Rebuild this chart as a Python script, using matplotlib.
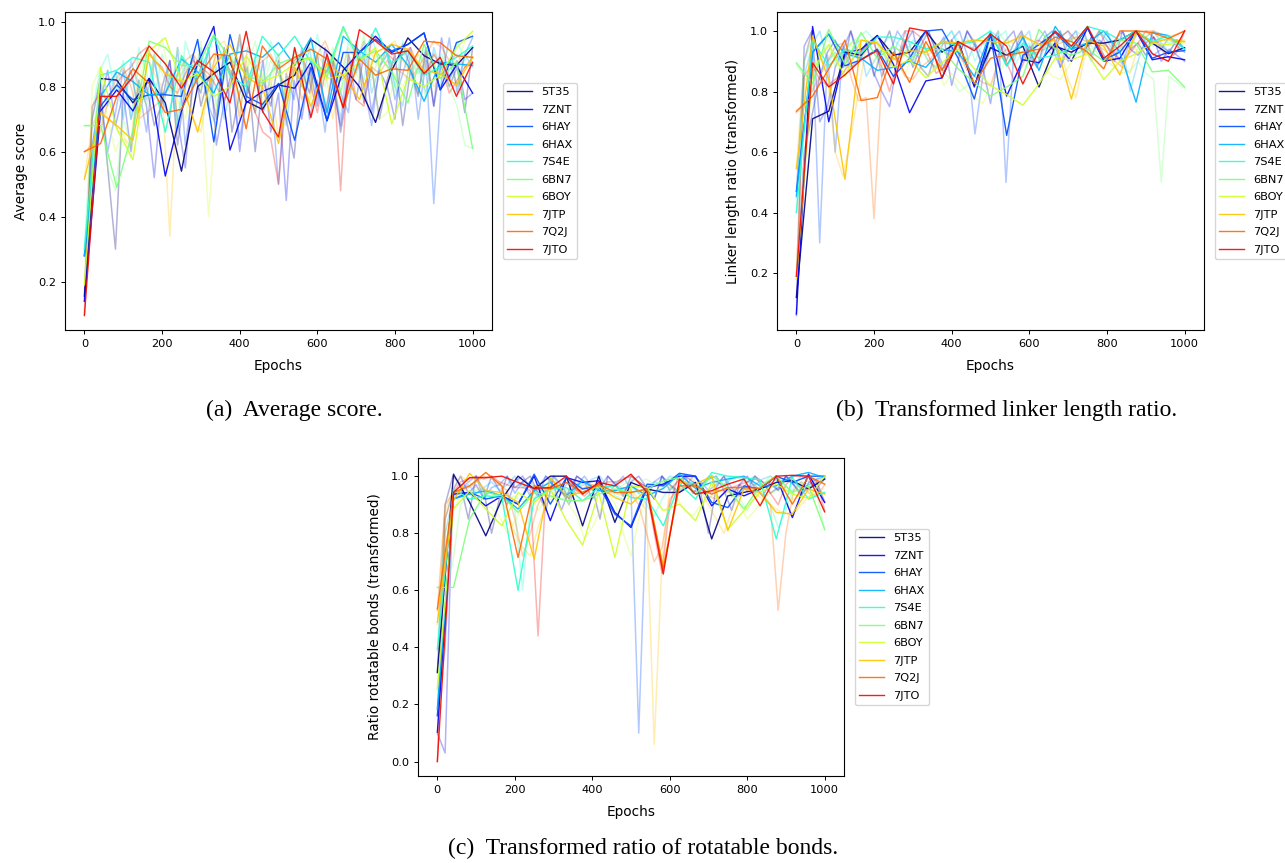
import matplotlib
matplotlib.use("Agg")
import matplotlib.pyplot as plt
import numpy as np

targets = ["5T35", "7ZNT", "6HAY", "6HAX", "7S4E", "6BN7", "6BOY", "7JTP", "7Q2J", "7JTO"]

# bold curves: one value every ~42 epochs (25 points), in percent
epochs_coarse = np.linspace(0, 1000, 25)
# faint curves: one value every 20 epochs (51 points), in percent
epochs_fine = np.arange(0, 1001, 20)

score_coarse = [
    [15.5, 82.5, 82, 75, 82.5, 75, 54, 80, 84, 87.5, 75.5, 73, 80.5, 83.5, 94.5, 91, 86, 80, 69, 85, 95, 89.5, 87, 86.5, 92],
    [14, 72.5, 79, 72.5, 82.5, 52.5, 72.5, 87, 98.5, 60.5, 75, 78.5, 80.5, 79.5, 87.5, 69.5, 85, 90.5, 95.5, 90.5, 93, 96.5, 79, 86.5, 78],
    [28, 74, 80.5, 76, 77.5, 77.5, 77, 94.5, 63, 96, 77, 74.5, 81, 63.5, 86, 69.5, 90.5, 90.5, 94.5, 91, 93, 96.5, 79, 93.5, 95.5],
    [28, 77, 84.5, 81.5, 77.5, 78, 88.5, 84.5, 78, 90, 91, 89, 93.5, 86.5, 95, 72, 95.5, 91, 87.5, 93, 86.5, 75.5, 87.5, 87, 86.5],
    [30, 83.5, 85, 89, 87.5, 66, 89.5, 82.5, 95.5, 83.5, 80, 95.5, 89.5, 95.5, 87.5, 84.5, 98.5, 87.5, 98, 87, 91, 83.5, 86, 89, 92.5],
    [68, 68, 49, 66.5, 94, 92, 86.5, 86.5, 96, 88.5, 84, 81, 87, 89, 88.5, 83, 98, 88.5, 91, 84.5, 75, 93, 82.5, 87.5, 61],
    [19, 86, 67, 57.5, 91, 95, 81.5, 84, 77, 80, 89.5, 81.5, 83.5, 87, 89, 82.5, 83.5, 87.5, 92, 68.5, 82.5, 80, 83.5, 92, 97],
    [51.5, 72, 68, 63.5, 90, 84, 81.5, 66, 86, 93, 83, 80, 62.5, 86, 74, 87, 83.5, 76, 90.5, 93, 91.5, 85, 84, 80.5, 89],
    [60, 62.5, 77, 85.5, 81, 72, 73, 82.5, 90, 89.5, 67, 92.5, 85.5, 89, 91.5, 88.5, 73.5, 88.5, 83.5, 85.5, 85, 94, 93.5, 89.5, 89],
    [9.6, 77, 77, 83, 92.5, 87, 79.5, 88, 84.5, 75, 97, 72.5, 64.5, 92, 70.5, 90, 73.5, 97.5, 94, 90, 91, 84, 89, 77, 87.5],
]

score_fine = [
    [16, 70, 82, 55, 30, 78, 85, 72, 80, 68, 75, 88, 62, 80, 90, 74, 83, 70, 92, 66, 78, 86, 60, 82, 74, 88, 70, 58, 85, 78, 90, 72, 84, 66, 80, 93, 75, 86, 70, 82, 90, 68, 85, 77, 92, 74, 88, 80, 86, 72, 92],
    [14, 62, 75, 85, 68, 78, 60, 82, 74, 52, 80, 88, 70, 55, 84, 78, 92, 62, 75, 85, 60, 80, 72, 88, 66, 78, 45, 82, 70, 86, 74, 92, 80, 68, 84, 76, 90, 72, 85, 80, 70, 93, 86, 78, 90, 74, 95, 82, 88, 76, 78],
    [28, 55, 78, 60, 72, 85, 70, 80, 66, 88, 76, 70, 92, 62, 80, 86, 74, 68, 90, 82, 64, 78, 86, 72, 80, 50, 84, 76, 92, 70, 82, 66, 88, 78, 72, 94, 80, 68, 86, 90, 76, 84, 92, 70, 88, 44, 82, 95, 78, 90, 95],
    [28, 60, 82, 74, 85, 70, 88, 80, 76, 90, 72, 84, 66, 88, 80, 92, 74, 86, 70, 82, 94, 78, 88, 72, 84, 90, 68, 86, 80, 92, 76, 88, 82, 70, 90, 84, 94, 78, 86, 92, 80, 74, 90, 86, 78, 92, 84, 88, 80, 90, 86],
    [30, 72, 85, 90, 78, 88, 70, 92, 84, 76, 90, 82, 68, 94, 86, 80, 92, 74, 88, 84, 96, 78, 90, 82, 94, 86, 72, 92, 88, 80, 96, 84, 90, 78, 94, 88, 82, 96, 86, 90, 80, 94, 88, 84, 92, 86, 90, 82, 94, 88, 92],
    [68, 68, 75, 55, 48, 70, 62, 82, 74, 90, 84, 78, 92, 86, 80, 94, 76, 88, 82, 90, 72, 86, 94, 80, 88, 84, 76, 90, 82, 94, 86, 80, 92, 78, 88, 84, 96, 82, 90, 86, 78, 92, 84, 88, 76, 90, 86, 80, 74, 62, 61],
    [19, 80, 86, 70, 60, 66, 58, 80, 92, 88, 95, 82, 76, 70, 86, 80, 40, 74, 86, 82, 78, 88, 72, 84, 80, 90, 76, 84, 86, 74, 88, 82, 90, 78, 86, 84, 80, 88, 70, 72, 84, 80, 86, 78, 90, 84, 88, 92, 86, 94, 97],
    [52, 68, 72, 70, 68, 64, 62, 88, 90, 84, 80, 34, 82, 86, 70, 66, 80, 92, 94, 88, 84, 80, 86, 74, 82, 64, 84, 88, 80, 76, 90, 86, 70, 84, 92, 88, 94, 90, 86, 92, 94, 88, 84, 90, 86, 80, 84, 88, 80, 86, 89],
    [60, 62, 66, 75, 82, 86, 80, 70, 72, 74, 76, 80, 84, 88, 90, 86, 82, 90, 88, 84, 70, 92, 86, 88, 90, 84, 80, 86, 76, 82, 90, 94, 88, 82, 84, 92, 80, 86, 84, 88, 86, 84, 82, 86, 90, 94, 92, 88, 90, 86, 89],
    [10, 74, 78, 76, 80, 84, 86, 90, 92, 88, 86, 80, 78, 84, 88, 86, 84, 80, 76, 82, 96, 80, 72, 66, 64, 50, 78, 88, 90, 82, 72, 84, 88, 48, 90, 76, 74, 96, 94, 90, 88, 90, 92, 86, 84, 90, 86, 78, 82, 86, 87],
]

linker_coarse = [
    [12, 71, 73.5, 93, 92, 98.5, 92, 93, 100, 93, 96.5, 82, 94.5, 92, 95, 81.5, 95, 93, 96, 96, 97, 100, 96, 92.5, 94.5],
    [6.5, 101.5, 70, 92.5, 94, 98.5, 89, 73, 83.5, 84.5, 96.5, 81.5, 99, 78.5, 90.5, 89.5, 96, 90, 101, 90, 91, 100, 90.5, 91.5, 90.5],
    [47, 93, 99, 88.5, 90.5, 94, 85, 91, 100, 100.5, 91, 77.5, 99, 65.5, 92, 95.5, 99.5, 94, 101, 90.5, 93, 100, 91, 93, 93.5],
    [45.5, 93, 99, 92.5, 91, 87, 88, 90, 88, 94, 93, 85, 99.5, 88.5, 98, 87, 101.5, 94, 96, 100, 93, 76.5, 99.5, 98.5, 94],
    [40, 97, 88.5, 94, 92.5, 98, 98, 96.5, 94, 96, 95.5, 96.5, 100, 88.5, 96, 91, 92, 94.5, 101.5, 100, 97, 100, 96.5, 98.5, 94],
    [89.5, 82.5, 100.5, 89, 99.5, 91, 95, 91, 93.5, 94, 87.5, 83, 78.5, 81.5, 85, 100.5, 94, 92, 94, 90, 97, 96, 86.5, 87, 81.5],
    [18, 87, 95.5, 85, 97, 96, 88, 90.5, 84.5, 89.5, 94, 87.5, 82, 79, 75.5, 82.5, 91, 90.5, 92.5, 84, 90, 92.5, 96, 95.5, 96.5],
    [54.5, 98.5, 84, 51, 97, 96, 90.5, 93.5, 93, 96.5, 96, 97, 96.5, 96, 98.5, 95.5, 97, 77.5, 97, 95, 85.5, 100, 96, 97.5, 96.5],
    [73.5, 78.5, 87.5, 97, 77, 78, 93, 83, 96.5, 87, 96, 82.5, 91, 92, 93, 94, 98, 96.5, 93, 87.5, 100, 100, 99.5, 97.5, 100],
    [19, 89.5, 81.5, 85.5, 90.5, 93.5, 82.5, 101, 100, 84.5, 96.5, 93.5, 99, 95, 82.5, 93.5, 100, 95, 101.5, 91, 95, 100, 92.5, 90, 100],
]

linker_fine = [
    [12, 60, 72, 85, 93, 97, 88, 100, 92, 96, 85, 94, 100, 90, 97, 88, 95, 100, 93, 86, 97, 92, 100, 95, 88, 94, 98, 90, 96, 100, 92, 88, 97, 94, 100, 90, 96, 93, 98, 95, 90, 97, 100, 94, 96, 92, 98, 95, 93, 97, 94],
    [6, 95, 100, 70, 75, 88, 94, 100, 90, 96, 86, 80, 75, 90, 96, 100, 88, 85, 94, 98, 82, 92, 100, 96, 88, 76, 92, 97, 100, 90, 95, 92, 98, 100, 88, 94, 96, 100, 92, 97, 95, 90, 100, 94, 92, 96, 98, 90, 94, 92, 90],
    [47, 90, 100, 30, 92, 60, 95, 88, 90, 94, 97, 85, 92, 100, 96, 90, 98, 100, 94, 88, 97, 100, 92, 66, 85, 95, 100, 50, 93, 99, 90, 96, 100, 94, 88, 97, 100, 92, 98, 95, 100, 93, 89, 97, 100, 96, 92, 94, 98, 95, 93],
    [45, 85, 95, 100, 90, 93, 88, 92, 97, 85, 90, 94, 88, 96, 100, 92, 95, 90, 88, 97, 100, 94, 90, 96, 92, 100, 98, 93, 90, 97, 100, 88, 95, 92, 98, 100, 94, 96, 90, 100, 97, 92, 95, 80, 90, 98, 100, 96, 93, 97, 94],
    [40, 90, 97, 92, 88, 95, 93, 96, 98, 100, 97, 95, 98, 96, 93, 97, 96, 94, 95, 97, 100, 96, 98, 90, 96, 94, 98, 100, 88, 93, 96, 92, 98, 100, 97, 95, 100, 98, 96, 100, 97, 96, 98, 95, 100, 97, 95, 98, 96, 97, 94],
    [89, 85, 80, 95, 100, 88, 92, 96, 90, 95, 98, 92, 94, 90, 93, 96, 94, 90, 88, 86, 84, 80, 82, 85, 90, 95, 100, 96, 94, 92, 90, 93, 95, 92, 94, 96, 98, 97, 95, 92, 90, 88, 86, 87, 90, 86, 84, 50, 85, 83, 81],
    [18, 80, 88, 92, 95, 90, 85, 96, 97, 93, 90, 88, 94, 90, 86, 92, 88, 85, 90, 82, 86, 83, 80, 78, 76, 82, 86, 90, 93, 92, 90, 92, 88, 85, 84, 88, 92, 95, 94, 93, 90, 92, 95, 96, 93, 94, 96, 95, 97, 96, 96],
    [55, 90, 100, 92, 85, 60, 52, 65, 80, 95, 97, 96, 93, 90, 92, 94, 93, 92, 95, 97, 96, 94, 97, 96, 98, 96, 95, 97, 96, 98, 97, 95, 97, 96, 94, 84, 78, 90, 97, 96, 95, 92, 88, 86, 95, 98, 100, 97, 97, 96, 97],
    [73, 76, 80, 85, 90, 95, 96, 85, 77, 78, 38, 85, 92, 90, 85, 84, 88, 90, 93, 96, 97, 92, 87, 85, 83, 82, 90, 94, 92, 93, 92, 93, 94, 95, 96, 97, 98, 97, 96, 95, 93, 90, 88, 94, 100, 100, 100, 99, 98, 99, 100],
    [19, 85, 89, 84, 82, 84, 86, 90, 93, 95, 96, 88, 80, 90, 100, 100, 98, 92, 86, 88, 94, 96, 95, 94, 96, 98, 97, 90, 84, 88, 94, 97, 96, 94, 98, 100, 97, 94, 96, 100, 95, 92, 90, 93, 96, 100, 98, 94, 91, 93, 100],
]

rot_coarse = [
    [31.3, 100.7, 90.8, 79.1, 92, 100, 95.5, 100, 100, 82.6, 100, 83.8, 97.8, 95.5, 94.3, 94.3, 97.8, 78, 93.1, 94.3, 95.5, 97.8, 98.4, 95.5, 99],
    [10.3, 93.7, 94.3, 89.6, 93.1, 90.2, 100, 84.4, 99.5, 97.8, 98.4, 87.3, 82, 96, 97.2, 100, 100, 89.6, 95.5, 93.1, 95.5, 100, 85.5, 100.7, 90.8],
    [16.1, 92, 94.3, 92, 93.1, 90.2, 100.7, 90.2, 99.5, 95.5, 96.6, 86.7, 82.6, 97.2, 96.6, 101, 100, 90.8, 89, 96.6, 95.5, 100, 97.8, 100, 100],
    [18.4, 92, 93.7, 94.9, 93.1, 88.5, 94.9, 97.8, 93.1, 98.4, 94.9, 94.9, 96.6, 93.1, 95.7, 100.7, 95.7, 97.8, 99, 100, 96.6, 96.6, 100, 101.3, 99.5],
    [39.4, 95.5, 92, 93.1, 92.5, 60, 92, 95.5, 96, 91.4, 96, 96.6, 92.5, 92, 82.6, 97.2, 92, 101.3, 100, 99.5, 98.7, 78, 99.5, 92, 94.3],
    [61, 61, 85, 94.3, 93.1, 87.3, 94.3, 93.1, 91.4, 91.4, 93.7, 95.5, 94.3, 95.5, 98.4, 99.5, 93.7, 100.3, 95.7, 88.5, 96.6, 100, 94.3, 96.6, 81.4],
    [25.4, 88.5, 94.9, 88.5, 82.6, 94.3, 90.8, 95.5, 84.4, 75.8, 94.3, 71.5, 96.6, 96, 87.9, 90.2, 84.4, 97.8, 81.4, 87.9, 94.3, 97.2, 93.7, 92.2, 100],
    [48.8, 91.4, 101, 94.9, 94.3, 90.8, 70.9, 99.5, 93.1, 94.3, 96.6, 92.5, 90.2, 95.5, 68, 97.8, 97.2, 100, 80.9, 95.5, 94.3, 87.3, 86.7, 95.5, 93.7],
    [53.5, 94.3, 96.6, 101.3, 96.6, 71.5, 96.6, 95.5, 97.8, 94.3, 97.2, 94.3, 94.3, 95.5, 67.5, 96.6, 96.6, 93.7, 96, 96, 95.7, 100, 90.2, 100, 97.2],
    [0, 94.3, 99.5, 99.5, 100, 97.8, 95.7, 96, 100, 93.7, 97.8, 96.6, 100.7, 94.3, 65.7, 99, 93.7, 94.9, 97.2, 99, 89.6, 100, 100.3, 100, 87.5],
]

rot_fine = [
    [31, 90, 100, 97, 85, 100, 95, 80, 92, 100, 96, 98, 100, 94, 88, 100, 97, 92, 100, 98, 96, 85, 100, 97, 93, 100, 98, 96, 92, 100, 97, 95, 100, 98, 94, 80, 96, 100, 93, 97, 95, 100, 98, 94, 96, 100, 97, 93, 98, 96, 99],
    [10, 3, 95, 100, 94, 97, 92, 100, 95, 90, 98, 100, 96, 93, 100, 97, 88, 95, 100, 98, 92, 96, 100, 97, 94, 98, 100, 96, 92, 100, 95, 98, 100, 94, 97, 99, 100, 95, 88, 97, 100, 96, 93, 98, 95, 100, 97, 94, 96, 98, 91],
    [16, 40, 93, 95, 98, 100, 92, 96, 97, 100, 94, 98, 93, 96, 100, 98, 95, 90, 97, 100, 96, 98, 94, 97, 100, 95, 10, 92, 98, 100, 97, 94, 96, 100, 98, 95, 97, 100, 96, 93, 98, 100, 96, 97, 95, 100, 98, 96, 97, 99, 100],
    [18, 80, 92, 95, 97, 94, 96, 98, 95, 97, 100, 96, 98, 94, 97, 100, 95, 98, 96, 97, 99, 100, 96, 98, 95, 97, 94, 96, 98, 97, 100, 99, 97, 98, 96, 100, 98, 97, 99, 100, 98, 97, 99, 100, 98, 99, 97, 100, 98, 99, 99],
    [39, 85, 95, 93, 94, 92, 93, 95, 92, 94, 88, 60, 90, 94, 96, 95, 97, 93, 96, 98, 95, 97, 96, 93, 92, 96, 94, 90, 86, 92, 96, 95, 97, 98, 96, 99, 100, 97, 100, 99, 98, 97, 94, 90, 82, 88, 96, 98, 97, 96, 94],
    [61, 61, 70, 90, 94, 95, 94, 93, 94, 92, 93, 91, 92, 93, 95, 94, 92, 93, 94, 95, 92, 96, 97, 95, 97, 99, 98, 99, 97, 98, 99, 100, 97, 96, 98, 99, 97, 96, 95, 92, 88, 93, 97, 100, 98, 96, 95, 97, 96, 94, 81],
    [25, 80, 88, 93, 95, 92, 90, 89, 86, 80, 84, 90, 94, 88, 92, 94, 95, 90, 86, 78, 82, 88, 94, 90, 80, 72, 85, 93, 95, 96, 97, 92, 88, 86, 90, 92, 95, 97, 93, 90, 85, 88, 92, 94, 95, 93, 92, 94, 96, 97, 100],
    [48, 88, 95, 100, 98, 96, 95, 94, 92, 88, 80, 75, 72, 82, 90, 93, 96, 95, 94, 96, 97, 96, 95, 94, 93, 95, 92, 88, 6, 70, 96, 98, 100, 99, 95, 90, 85, 80, 88, 95, 96, 94, 92, 90, 88, 87, 87, 90, 93, 94, 94],
    [53, 90, 94, 95, 96, 98, 100, 99, 97, 95, 85, 72, 80, 90, 96, 97, 94, 92, 95, 96, 97, 95, 94, 95, 96, 94, 90, 80, 70, 75, 92, 95, 96, 97, 95, 93, 92, 94, 95, 96, 96, 97, 93, 90, 53, 80, 95, 98, 94, 93, 97],
    [0, 85, 94, 98, 99, 100, 99, 100, 98, 97, 96, 96, 95, 44, 95, 96, 97, 98, 95, 93, 96, 97, 98, 98, 99, 100, 98, 96, 80, 66, 90, 99, 98, 95, 94, 94, 95, 95, 96, 97, 98, 99, 98, 94, 90, 97, 100, 100, 100, 98, 88],
]

colors = [plt.cm.jet(i / 10) for i in range(len(targets))]

W, H = 1285, 863
fig = plt.figure(figsize=(W / 100, H / 100), dpi=100)


def add_panel(box, coarse, fine, ylabel):
    # box is (left, top, right, bottom) in pixels
    l, t, r, b = box
    ax = fig.add_axes([l / W, 1 - b / H, (r - l) / W, (b - t) / H])
    for c, vals in zip(colors, fine):
        ax.plot(epochs_fine, np.array(vals) / 100, color=c, alpha=0.3, linewidth=1.1)
    for name, c, vals in zip(targets, colors, coarse):
        ax.plot(epochs_coarse, np.array(vals) / 100, color=c, alpha=0.9, linewidth=1.0, label=name)
    ax.set_xlabel("Epochs", fontsize=9.8, labelpad=7)
    ax.set_ylabel(ylabel, fontsize=9.8, labelpad=7)
    ax.tick_params(labelsize=8.2, width=0.7, length=3)
    for s in ax.spines.values():
        s.set_linewidth(0.8)
    ax.legend(loc="center left", bbox_to_anchor=(1.012, 0.5), fontsize=8.2,
              labelspacing=0.66, handlelength=2.2)
    return ax


add_panel((65, 12, 492, 330), score_coarse, score_fine, "Average score")
add_panel((777, 12, 1204, 330), linker_coarse, linker_fine, "Linker length ratio (transformed)")
add_panel((418, 458, 844, 776), rot_coarse, rot_fine, "Ratio rotatable bonds (transformed)")

cap = dict(fontsize=17, family="Liberation Serif", ha="center", va="center")
fig.text(294 / W, 1 - 410 / H, "(a)  Average score.", **cap)
fig.text(1007 / W, 1 - 410 / H, "(b)  Transformed linker length ratio.", **cap)
fig.text(643 / W, 1 - 848 / H, "(c)  Transformed ratio of rotatable bonds.", **cap)

fig.savefig("out.png", dpi=100)
